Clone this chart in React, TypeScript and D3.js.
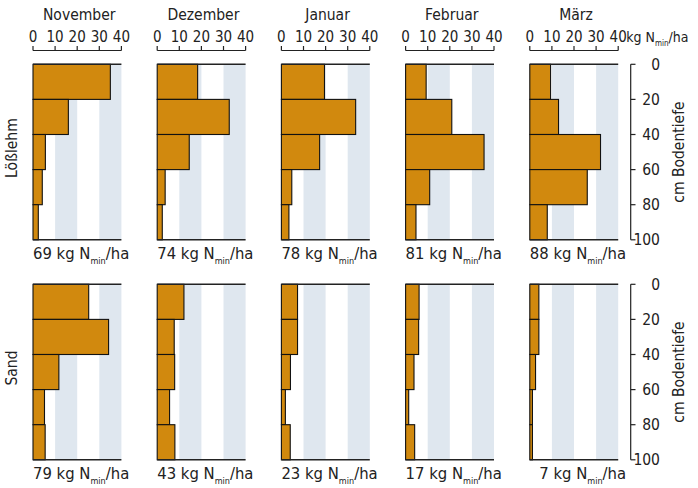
import React from 'react';
import * as d3 from 'd3';

const months = ['November', 'Dezember', 'Januar', 'Februar', 'März'];
const soils = ['Lößlehm', 'Sand'];
const depthBounds = [0, 20, 40, 60, 80, 100];
const depthTicks = [0, 20, 40, 60, 80, 100];
const xTicks = [0, 10, 20, 30, 40];
const bands = [[10, 20], [30, 40]];

const loessValues = [
  [35, 16, 5.6, 4.2, 2.4],
  [18.3, 32.6, 14.5, 3.6, 2.3],
  [19.5, 33.6, 17.3, 4.7, 3.4],
  [9.3, 20.9, 35.5, 10.9, 4.7],
  [9.4, 13, 32, 26, 7.9],
];
const sandValues = [
  [25.2, 34.2, 11.7, 5.2, 5.5],
  [12.1, 7.7, 7.9, 5.6, 8.0],
  [7.3, 7.3, 4.1, 1.8, 4.0],
  [6.1, 5.9, 3.8, 1.4, 4.1],
  [4.1, 4.1, 2.6, 1.2, 1.2],
];
const loessTotals = [69, 74, 78, 81, 88];
const sandTotals = [79, 43, 23, 17, 7];

const FONT = "'DejaVu Sans Condensed', 'Liberation Sans Narrow', 'Roboto', sans-serif";
const BAR = '#D1890E';
const BAND = '#DFE7EF';
const INK = '#222';

const W = 698, H = 488;
const panelX0 = 33, panelStep = 124.2, panelW = 88.4;
const rowTops = [64.3, 284.3];
const panelH = 175.5;

function NLabel({ x, y, total }: { x: number; y: number; total: number }) {
  const num = total < 10 ? '\u2007' + total : String(total);
  return (
    <text x={x} y={y} fontSize={16.5} fill={INK} fontFamily={FONT}>
      {num} kg N
      <tspan fontSize={9} dy={5}>min</tspan>
      <tspan dy={-5}>/ha</tspan>
    </text>
  );
}

export default function App() {
  const rows = [loessValues, sandValues];
  const totals = [loessTotals, sandTotals];
  return (
    <svg width={W} height={H} style={{ position: 'absolute', left: 0, top: 0, background: '#fff' }} fontFamily={FONT}>
      {rows.map((rowVals, r) => {
        const top = rowTops[r];
        const y = d3.scaleLinear().domain([0, 100]).range([top, top + panelH]);
        return (
          <g key={r}>
            {rowVals.map((vals, i) => {
              const x0 = panelX0 + i * panelStep;
              const x = d3.scaleLinear().domain([0, 40]).range([x0, x0 + panelW]);
              return (
                <g key={i}>
                  {bands.map(([a, b], k) => (
                    <rect key={k} x={x(a)} y={y(0)} width={x(b) - x(a)} height={y(100) - y(0)} fill={BAND} />
                  ))}
                  {vals.map((v, k) => (
                    <rect key={k} x={x(0)} y={y(depthBounds[k])} width={x(v) - x(0)}
                      height={y(depthBounds[k + 1]) - y(depthBounds[k])}
                      fill={BAR} stroke="#111" strokeWidth={1.1} />
                  ))}
                  <line x1={x(0)} x2={x(40)} y1={y(0)} y2={y(0)} stroke={INK} strokeWidth={1.4} />
                  <line x1={x(0)} x2={x(40)} y1={y(100)} y2={y(100)} stroke={INK} strokeWidth={1.4} />
                  {r === 0 && (
                    <g>
                      <text x={x(20) + 2} y={20} textAnchor="middle" fontSize={15.5} fill={INK}>{months[i]}</text>
                      <line x1={x(0)} x2={x(40)} y1={50.5} y2={50.5} stroke={INK} strokeWidth={1.2} />
                      {xTicks.map((t) => (
                        <g key={t}>
                          <line x1={x(t)} x2={x(t)} y1={46} y2={50.5} stroke={INK} strokeWidth={1.2} />
                          <text x={x(t)} y={42} textAnchor="middle" fontSize={15} fill={INK}>{t}</text>
                        </g>
                      ))}
                      {i === rowVals.length - 1 && (
                        <text x={x(40) + 8} y={42} fontSize={14} fill={INK}>
                          kg N<tspan fontSize={8} dy={4}>min</tspan><tspan dy={-4}>/ha</tspan>
                        </text>
                      )}
                    </g>
                  )}
                  <NLabel x={x0} y={y(100) + 19.5} total={totals[r][i]} />
                </g>
              );
            })}
            <line x1={630.7} x2={630.7} y1={y(0)} y2={y(100)} stroke={INK} strokeWidth={1.2} />
            {depthTicks.map((t) => (
              <g key={t}>
                <line x1={630.7} x2={635.5} y1={y(t)} y2={y(t)} stroke={INK} strokeWidth={1.2} />
                <text x={660} y={y(t) + 5.5} textAnchor="end" fontSize={15.5} fill={INK}>{t}</text>
              </g>
            ))}
            <text transform={`translate(684,${top + panelH / 2}) rotate(-90)`} textAnchor="middle" fontSize={15.5} fill={INK}>cm Bodentiefe</text>
            <text transform={`translate(17,${top + panelH / 2 - 4}) rotate(-90)`} textAnchor="middle" fontSize={15.5} fill={INK}>{soils[r]}</text>
          </g>
        );
      })}
    </svg>
  );
}
